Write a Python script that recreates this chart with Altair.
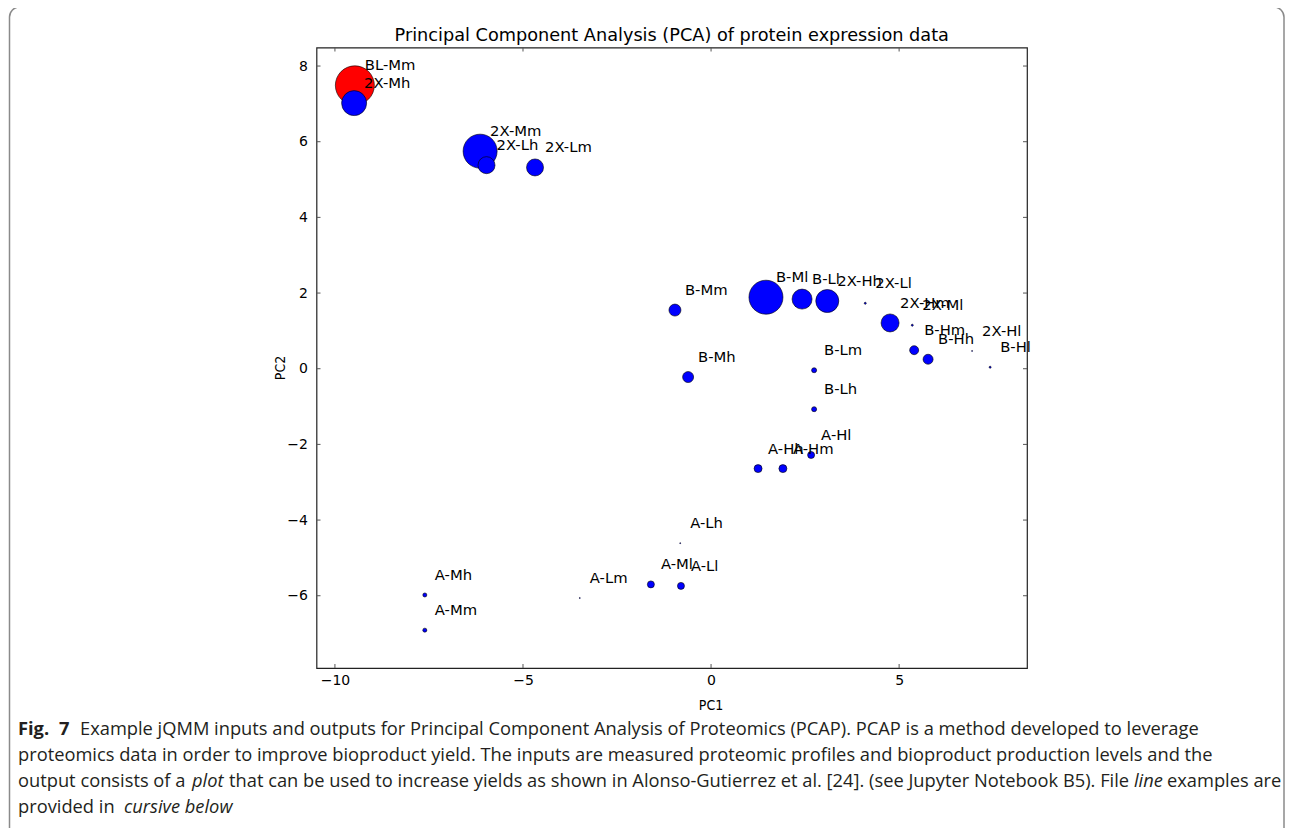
import altair as alt
import pandas as pd

# ---- data ----
labels = ["BL-Mm", "2X-Mh", "2X-Mm", "2X-Lh", "2X-Lm", "B-Mm", "B-Ml", "B-Ll", "2X-Hh",
          "2X-Ll", "2X-Hm", "2X-Ml", "B-Hm", "B-Hh", "2X-Hl", "B-Hl", "B-Lm", "B-Lh",
          "B-Mh", "A-Hl", "A-Hh", "A-Hm", "A-Lh", "A-Ml", "A-Ll", "A-Lm", "A-Mh", "A-Mm"]
pc1 = [-9.47, -9.49, -6.14, -5.97, -4.68, -0.96, 1.46, 2.42, 3.09,
       4.10, 4.76, 5.35, 5.40, 5.77, 6.94, 7.42, 2.74, 2.74,
       -0.61, 2.66, 1.25, 1.91, -0.82, -1.60, -0.80, -3.49, -7.61, -7.61]
pc2 = [7.49, 7.02, 5.75, 5.38, 5.32, 1.55, 1.89, 1.84, 1.79,
       1.73, 1.21, 1.15, 0.49, 0.25, 0.47, 0.04, -0.04, -1.07,
       -0.22, -2.28, -2.64, -2.64, -4.61, -5.70, -5.74, -6.06, -5.98, -6.91]
production = [15.2, 6.25, 11.56, 2.89, 2.89, 1.44, 11.56, 4.0, 5.3,
              0.04, 3.24, 0.04, 0.81, 1.0, 0.01, 0.04, 0.25, 0.25,
              1.21, 0.49, 0.64, 0.64, 0.01, 0.49, 0.49, 0.01, 0.16, 0.16]
group = ["baseline"] + ["strain"] * 27

x_ticks = [-10, -5, 0, 5]
y_ticks = [-6, -4, -2, 0, 2, 4, 6, 8]

title_text = "Principal Component Analysis (PCA) of protein expression data"

df = pd.DataFrame({"label": labels, "pc1": pc1, "pc2": pc2,
                   "production": production, "group": group})
xt = pd.DataFrame({"v": x_ticks})
yt = pd.DataFrame({"v": y_ticks})
one = pd.DataFrame({"k": [0]})

# ---- layout (page pixels) ----
W, H = 710.5, 620.5
PL, PT = 316.5, 47.5          # plot-area origin on the page
SVG_W, SVG_H = 1277, 820
def px(x):
    return x - PL
def py(y):
    return y - PT

xscale = alt.Scale(domain=[-10.49, 8.40], nice=False, zero=False)
yscale = alt.Scale(domain=[-7.91, 8.49], nice=False, zero=False)
tick_font = "DejaVu Sans"

X = alt.X("pc1:Q", scale=xscale,
          axis=alt.Axis(values=x_ticks, ticks=False, domain=False, grid=False, title=None,
                        labelFont=tick_font, labelFontSize=14, labelColor="black",
                        labelPadding=5))
Y = alt.Y("pc2:Q", scale=yscale,
          axis=alt.Axis(values=y_ticks, ticks=False, domain=False, grid=False, title=None,
                        labelFont=tick_font, labelFontSize=14, labelColor="black",
                        labelPadding=9))

points = alt.Chart(df).mark_circle(stroke="black", strokeWidth=0.6, opacity=1).encode(
    x=X, y=Y,
    size=alt.Size("production:Q", scale=alt.Scale(domain=[0, 16], range=[0, 1600]), legend=None),
    color=alt.Color("group:N", scale=alt.Scale(domain=["baseline", "strain"],
                                                range=["#ff0000", "#0000ff"]), legend=None),
)

texts = alt.Chart(df).mark_text(align="left", baseline="middle", dx=10, dy=-19,
                                font=tick_font, fontSize=14.8, color="black").encode(
    x=alt.X("pc1:Q", scale=xscale), y=alt.Y("pc2:Q", scale=yscale), text="label:N")

tick_color = "#555555"
xt_bottom = alt.Chart(xt).mark_rule(color=tick_color, strokeWidth=1).encode(
    x=alt.X("v:Q", scale=xscale), y=alt.value(H - 4), y2=alt.value(H))
xt_top = alt.Chart(xt).mark_rule(color=tick_color, strokeWidth=1).encode(
    x=alt.X("v:Q", scale=xscale), y=alt.value(0), y2=alt.value(4))
yt_left = alt.Chart(yt).mark_rule(color=tick_color, strokeWidth=1).encode(
    y=alt.Y("v:Q", scale=yscale), x=alt.value(0), x2=alt.value(4))
yt_right = alt.Chart(yt).mark_rule(color=tick_color, strokeWidth=1).encode(
    y=alt.Y("v:Q", scale=yscale), x=alt.value(W - 4), x2=alt.value(W))

title = alt.Chart(one).mark_text(text=title_text, font=tick_font, fontSize=17.7,
                                 align="center", baseline="middle", color="black").encode(
    x=alt.value(W / 2), y=alt.value(py(36)))
pc1_t = alt.Chart(one).mark_text(text="PC1", font="DejaVu Sans Condensed", fontSize=14,
                                 align="center", baseline="middle", color="black").encode(
    x=alt.value(px(711)), y=alt.value(py(706)))
pc2_t = alt.Chart(one).mark_text(text="PC2", font="DejaVu Sans Condensed", fontSize=14, angle=270,
                                 align="center", baseline="middle", color="black").encode(
    x=alt.value(px(281)), y=alt.value(py(368)))

border = alt.Chart(one).mark_rect(fillOpacity=0, stroke="#8a8a8a", strokeWidth=1.5,
                                  cornerRadius=10).encode(
    x=alt.value(px(9.5)), x2=alt.value(px(8 + SVG_W - 1)),
    y=alt.value(py(7)), y2=alt.value(py(900)))

cap_font = "Open Sans"
cap_size = 18.3
line_y = [730, 756, 782, 808]
segments = [
    ("Fig.", "bold", "normal", 18, 0),
    ("7", "bold", "normal", 59, 0),
    ("Example jQMM inputs and outputs for Principal Component Analysis of Proteomics (PCAP). PCAP is a method developed to leverage",
     "normal", "normal", 80, 0),
    ("proteomics data in order to improve bioproduct yield. The inputs are measured proteomic profiles and bioproduct production levels and the",
     "normal", "normal", 18, 1),
    ("output consists of a", "normal", "normal", 18, 2),
    ("plot", "normal", "italic", 192, 2),
    ("that can be used to increase yields as shown in Alonso-Gutierrez et al. [24]. (see Jupyter Notebook B5). File",
     "normal", "normal", 229, 2),
    ("line", "normal", "italic", 1134, 2),
    ("examples are", "normal", "normal", 1167, 2),
    ("provided in", "normal", "normal", 18, 3),
    ("cursive below", "normal", "italic", 124, 3),
]
cap_layers = []
for txt, weight, style, x0, li in segments:
    cap_layers.append(
        alt.Chart(one).mark_text(text=txt, font=cap_font, fontSize=cap_size, fontWeight=weight,
                                 fontStyle=style, align="left", baseline="middle",
                                 color="#231f20").encode(
            x=alt.value(px(x0)), y=alt.value(py(line_y[li]))))

chart = alt.layer(
    border, points, texts, xt_bottom, xt_top, yt_left, yt_right, title, pc1_t, pc2_t,
    *cap_layers
).properties(
    width=W, height=H,
    autosize=alt.AutoSizeParams(type="none"),
    padding={"left": PL - 8, "top": PT - 8, "right": SVG_W - (PL - 8) - W,
             "bottom": SVG_H - (PT - 8) - H},
    background="white",
).configure_view(stroke="#222222", strokeWidth=1.2)

chart.save("out.html", embed_options={"renderer": "svg", "actions": False})
